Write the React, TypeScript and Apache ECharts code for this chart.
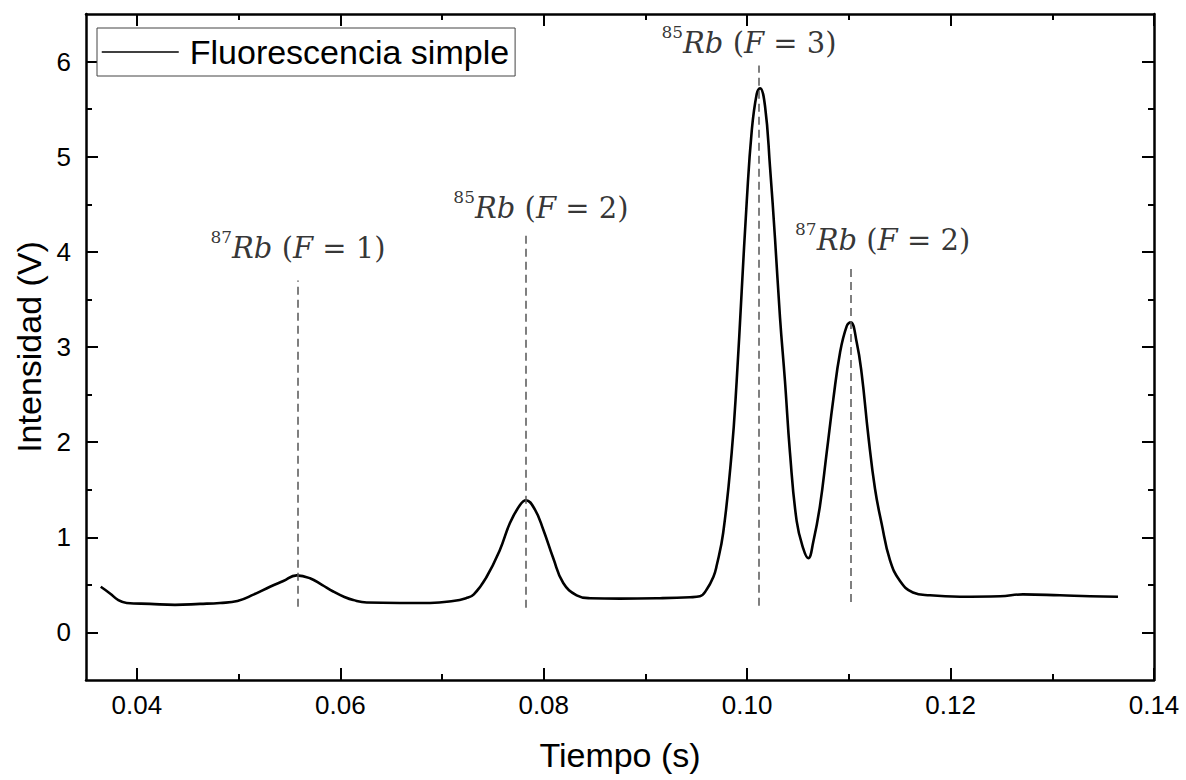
import React, { useEffect, useRef } from "react";
import * as echarts from "echarts";

// Measured curve (time in s, intensity in V)
const timeS = [
  0.03645, 0.03736, 0.03818, 0.039, 0.04129, 0.04375, 0.04621, 0.04817, 0.04989, 0.05152,
  0.05309, 0.0544, 0.05571, 0.05702, 0.0582, 0.05931, 0.06046, 0.06128, 0.0626, 0.06587,
  0.06882, 0.07108, 0.07236, 0.07313, 0.07439, 0.0757, 0.07668, 0.07767, 0.07826, 0.07914,
  0.07996, 0.08094, 0.08192, 0.08324, 0.08455, 0.0875, 0.09143, 0.09438, 0.09536, 0.09602,
  0.09667, 0.097, 0.09765, 0.09848, 0.09897, 0.09946, 0.09995, 0.10045, 0.10094, 0.10126,
  0.10176, 0.10225, 0.10274, 0.10323, 0.10372, 0.10421, 0.10487, 0.10552, 0.10601, 0.1065,
  0.10716, 0.10782, 0.10847, 0.10913, 0.10979, 0.11018, 0.11077, 0.11126, 0.11191, 0.11257,
  0.11323, 0.11404, 0.11503, 0.1163, 0.11797, 0.12092, 0.12486, 0.12712, 0.13076, 0.13371,
  0.13646,
];
const intensityV = [
  0.48, 0.41, 0.34, 0.31, 0.3, 0.29, 0.3, 0.31, 0.33, 0.4,
  0.48, 0.54, 0.6, 0.57, 0.5, 0.43, 0.37, 0.34, 0.315, 0.31,
  0.31, 0.33, 0.36, 0.4, 0.585, 0.87, 1.15, 1.34, 1.39, 1.29,
  1.08, 0.78, 0.52, 0.39, 0.36, 0.355, 0.36, 0.37, 0.38, 0.45,
  0.58, 0.7, 1.05, 1.89, 2.64, 3.58, 4.51, 5.27, 5.66, 5.72,
  5.53, 4.89, 4.14, 3.31, 2.64, 1.89, 1.17, 0.88, 0.78, 0.95,
  1.33, 1.89, 2.45, 2.94, 3.22, 3.26, 3.05, 2.72, 2.07, 1.51,
  1.14, 0.76, 0.54, 0.42, 0.39, 0.375, 0.38, 0.4, 0.39, 0.38,
  0.375,
];

// Axis ticks
const xMajorTicks = [0.04, 0.06, 0.08, 0.1, 0.12, 0.14];
const xMinorTicks = [0.05, 0.07, 0.09, 0.11, 0.13];
const yMajorTicks = [0, 1, 2, 3, 4, 5, 6];
const yMinorTicks = [0.5, 1.5, 2.5, 3.5, 4.5, 5.5];

// Peak markers (dashed lines) and their annotations
const peakTimes = [0.05584, 0.07819, 0.10119, 0.11018];
const markerBottoms = [0.27, 0.26, 0.28, 0.32];
const markerTops = [3.7, 4.21, 5.96, 3.83];
const isotopes = ["87", "85", "85", "87"];
const levels = ["1", "2", "3", "2"];
const labelTimes = [0.05584, 0.07973, 0.10018, 0.11332];
const labelValues = [4.04, 4.46, 6.19, 4.12];

const seriesName = "Fluorescencia simple";

export default function App() {
  const ref = useRef<HTMLDivElement>(null);

  useEffect(() => {
    if (!ref.current) return;
    const chart = echarts.init(ref.current, null, { renderer: "svg" });
    const sans = "'Liberation Sans', Arial, sans-serif";
    const serif = "'DejaVu Serif', serif";
    const black = "#000";
    const frameLine = { color: black, width: 2.5 };
    const tickLine = { color: black, width: 2 };

    const xBase = { type: "value", min: 0.035, max: 0.14, splitLine: { show: false } };
    const yBase = { type: "value", min: -0.5, max: 6.5, splitLine: { show: false } };

    const curve = timeS.map((t, i) => [t, intensityV[i]]);

    const option: any = {
      animation: false,
      backgroundColor: "#fff",
      grid: { left: 86, right: 32, top: 14, bottom: 100, containLabel: false },
      legend: {
        data: [seriesName],
        left: 97,
        top: 28,
        padding: [4, 6, 4, 4],
        itemWidth: 77,
        itemHeight: 14,
        borderColor: "#444",
        borderWidth: 1,
        borderRadius: 0,
        backgroundColor: "#fff",
        itemStyle: { opacity: 0, borderWidth: 0 },
        lineStyle: { width: 1.5, color: black },
        textStyle: { fontSize: 34, fontFamily: sans, color: black, lineHeight: 40, padding: [0, 0, 0, 6] },
      },
      xAxis: [
        {
          ...xBase,
          position: "bottom",
          axisLine: { onZero: false, lineStyle: frameLine },
          axisTick: { inside: true, length: 12, customValues: xMajorTicks, lineStyle: tickLine },
          axisLabel: {
            customValues: xMajorTicks,
            formatter: (v: number) => v.toFixed(2),
            fontSize: 26,
            fontFamily: sans,
            color: black,
            margin: 12,
          },
          name: "Tiempo (s)",
          nameLocation: "middle",
          nameGap: 58,
          nameTextStyle: { fontSize: 34, fontFamily: sans, color: black },
        },
        {
          ...xBase,
          position: "bottom",
          axisLine: { show: false, onZero: false },
          axisTick: { inside: true, length: 6, customValues: xMinorTicks, lineStyle: tickLine },
          axisLabel: { show: false },
        },
        {
          ...xBase,
          position: "top",
          axisLine: { onZero: false, lineStyle: frameLine },
          axisTick: { inside: true, length: 12, customValues: xMajorTicks, lineStyle: tickLine },
          axisLabel: { show: false },
        },
        {
          ...xBase,
          position: "top",
          axisLine: { show: false, onZero: false },
          axisTick: { inside: true, length: 6, customValues: xMinorTicks, lineStyle: tickLine },
          axisLabel: { show: false },
        },
      ],
      yAxis: [
        {
          ...yBase,
          position: "left",
          axisLine: { show: true, onZero: false, lineStyle: frameLine },
          axisTick: { show: true, inside: true, length: 12, customValues: yMajorTicks, lineStyle: tickLine },
          axisLabel: {
            customValues: yMajorTicks,
            formatter: (v: number) => String(v),
            fontSize: 26,
            fontFamily: sans,
            color: black,
            margin: 15,
          },
          name: "Intensidad (V)",
          nameLocation: "middle",
          nameGap: 36,
          nameTextStyle: { fontSize: 34, fontFamily: sans, color: black },
        },
        {
          ...yBase,
          position: "left",
          axisLine: { show: false, onZero: false },
          axisTick: { show: true, inside: true, length: 6, customValues: yMinorTicks, lineStyle: tickLine },
          axisLabel: { show: false },
        },
        {
          ...yBase,
          position: "right",
          axisLine: { show: true, onZero: false, lineStyle: frameLine },
          axisTick: { show: true, inside: true, length: 12, customValues: yMajorTicks, lineStyle: tickLine },
          axisLabel: { show: false },
        },
        {
          ...yBase,
          position: "right",
          axisLine: { show: false, onZero: false },
          axisTick: { show: true, inside: true, length: 6, customValues: yMinorTicks, lineStyle: tickLine },
          axisLabel: { show: false },
        },
      ],
      series: [
        {
          type: "line",
          name: seriesName,
          xAxisIndex: 0,
          yAxisIndex: 0,
          data: curve,
          symbol: "none",
          smooth: 0.45,
          lineStyle: { color: black, width: 2.6 },
          itemStyle: { color: black },
          emphasis: { disabled: true },
          markLine: {
            silent: true,
            symbol: ["none", "none"],
            label: { show: false },
            lineStyle: { color: "#555", width: 1.5, type: [8, 5] },
            emphasis: { disabled: true },
            data: peakTimes.map((t, i) => [
              { coord: [t, markerBottoms[i]] },
              { coord: [t, markerTops[i]] },
            ]),
          },
        },
        {
          type: "scatter",
          name: "labels",
          xAxisIndex: 0,
          yAxisIndex: 0,
          symbolSize: 0,
          silent: true,
          data: labelTimes.map((t, i) => [t, labelValues[i], isotopes[i], levels[i]]),
          label: {
            show: true,
            position: "inside",
            align: "center",
            verticalAlign: "middle",
            fontSize: 29,
            fontFamily: serif,
            color: black,
            lineHeight: 40,
            formatter: (p: any) =>
              `{sup|${p.data[2]}}{it|Rb} {n|(}{it|F}{n| = ${p.data[3]})}`,
            rich: {
              sup: { fontSize: 17, fontFamily: serif, color: black, lineHeight: 10, verticalAlign: "top" },
              it: { fontSize: 29, fontFamily: serif, fontStyle: "italic", color: black, lineHeight: 40 },
              n: { fontSize: 29, fontFamily: serif, color: black, lineHeight: 40 },
            },
          },
        },
      ],
    };

    chart.setOption(option);
    return () => chart.dispose();
  }, []);

  return (
    <div
      ref={ref}
      style={{ position: "absolute", left: 0, top: 0, width: 1186, height: 780, background: "#fff" }}
    />
  );
}
